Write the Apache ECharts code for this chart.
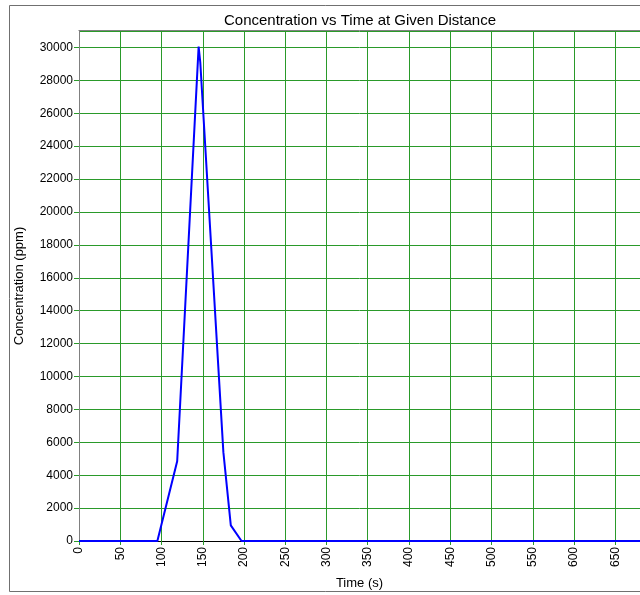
<!DOCTYPE html>
<html>
<head>
<meta charset="utf-8">
<script src="https://cdn.jsdelivr.net/npm/echarts@6/dist/echarts.min.js"></script>
<style>html,body{margin:0;padding:0;background:#fff}#c{width:640px;height:595px}</style>
</head>
<body>
<div id="c"></div>
<script>
const titleText = "Concentration vs Time at Given Distance";
const xName = "Time (s)";
const yName = "Concentration (ppm)";
const times = [0, 95, 119, 145, 147, 175, 184, 197, 680];
const conc  = [0, 0, 4850, 30050, 29100, 5400, 950, 0, 0];

const chart = echarts.init(document.getElementById('c'), null, {renderer: 'canvas'});
const font = "'Liberation Sans', Arial, sans-serif";
const green = '#2a9a2a';
chart.setOption({
  animation: false,
  backgroundColor: '#fff',
  title: {
    text: titleText, left: 355, top: 8, textAlign: 'center',
    textStyle: {fontFamily: font, fontSize: 15, fontWeight: 'normal', color: '#000'}
  },
  grid: {left: 79, top: 31, bottom: 53, right: -5, containLabel: false},
  xAxis: {
    type: 'value', min: 0, max: 680, interval: 50,
    name: xName, nameLocation: 'middle', nameGap: 36,
    nameTextStyle: {fontFamily: font, fontSize: 13, color: '#000'},
    axisLine: {show: true, lineStyle: {color: '#000', width: 1}},
    axisTick: {show: true, length: 4, lineStyle: {color: green}},
    axisLabel: {rotate: 90, fontFamily: font, fontSize: 12, color: '#000', margin: 6, showMaxLabel: false,
      formatter: v => String(v)},
    splitLine: {show: true, lineStyle: {color: green, width: 1}}
  },
  yAxis: {
    type: 'value', min: 0, max: 31000, interval: 2000,
    name: yName, nameLocation: 'middle', nameGap: 53, nameRotate: 90,
    nameTextStyle: {fontFamily: font, fontSize: 13, color: '#000'},
    axisLine: {show: true, lineStyle: {color: '#808080', width: 1}},
    axisTick: {show: true, length: 5, lineStyle: {color: green}},
    axisLabel: {fontFamily: font, fontSize: 12, color: '#000', margin: 6, showMaxLabel: false,
      formatter: v => String(v)},
    splitLine: {show: true, lineStyle: {color: green, width: 1}}
  },
  graphic: [
    {type: 'rect', shape: {x: 9.5, y: 5.5, width: 700, height: 586}, style: {fill: 'none', stroke: '#707070', lineWidth: 1}, z: 100},
    {type: 'line', shape: {x1: 78.5, y1: 30.5, x2: 700, y2: 30.5}, style: {stroke: '#808080', lineWidth: 1}, z: 100}
  ],
  series: [{
    type: 'line',
    data: times.map((t, i) => [t, conc[i]]),
    showSymbol: false,
    lineStyle: {color: '#0000ff', width: 2},
    clip: true,
    z: 10
  }]
});
</script>
</body>
</html>
